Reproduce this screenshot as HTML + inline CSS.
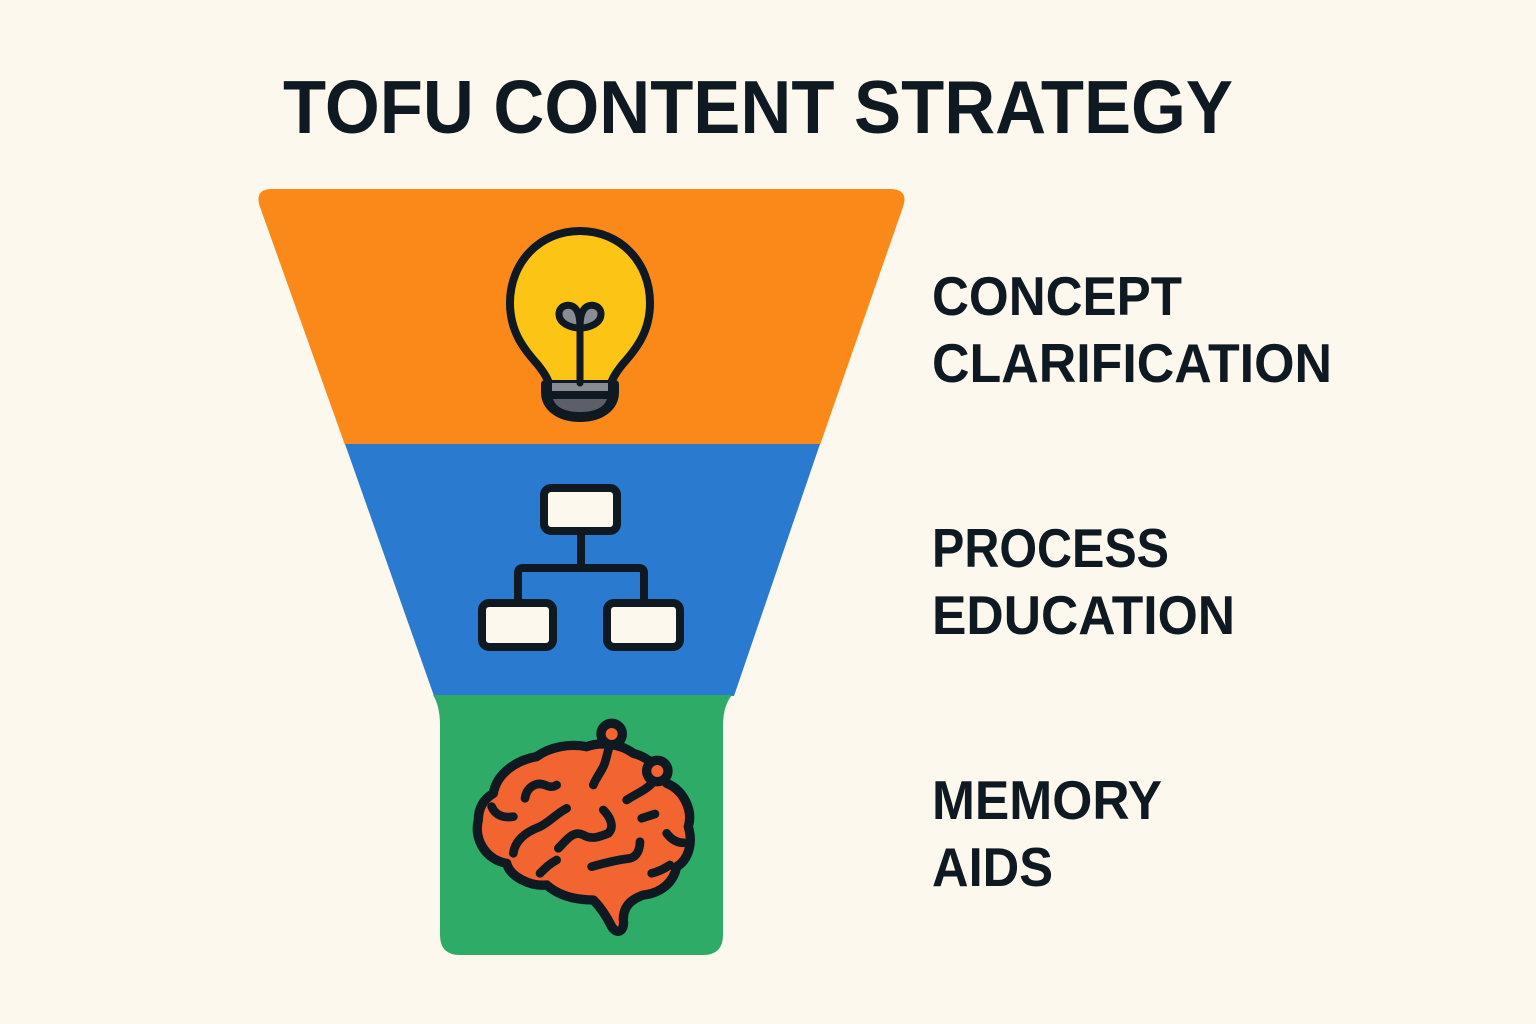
<!DOCTYPE html>
<html>
<head>
<meta charset="utf-8">
<style>
html,body{margin:0;padding:0;background:#fcf8ee;}
body{width:1536px;height:1024px;overflow:hidden;}
svg{display:block;}
text{font-family:"Liberation Sans",sans-serif;font-weight:bold;fill:#0f1922;}
</style>
</head>
<body>
<svg width="1536" height="1024" viewBox="0 0 1536 1024" xmlns="http://www.w3.org/2000/svg">
<rect width="1536" height="1024" fill="#fcf8ee"/>

<!-- Title -->
<text x="283" y="133" font-size="75" textLength="950" lengthAdjust="spacingAndGlyphs">TOFU CONTENT STRATEGY</text>

<!-- Funnel -->
<path d="M272,189 L890,189 Q909,189 903,207 L820,445 L345,445 L260,207 Q254,189 272,189 Z" fill="#fb8919"/>
<path d="M345,444 L820,444 L734,696 L434,696 Z" fill="#2a7bd0"/>
<path d="M433,695 L732,695 Q723,706 723,726 L723,935 Q723,955 703,955 L460,955 Q440,955 440,935 L440,726 Q440,706 433,695 Z" fill="#2fab68"/>

<!-- Light bulb -->
<g stroke="#0f1922" stroke-width="8" stroke-linejoin="round" stroke-linecap="round">
  <path d="M580,231 C620,231 650,262 650,303 C650,333 635,350 622,365 C614,375 611,382 611,385 L549,385 C549,382 546,375 538,365 C525,350 510,333 510,303 C510,262 540,231 580,231 Z" fill="#fcc415"/>
  <path d="M545,384 L615,384 L615,392 C615,408 600,418 580,418 C560,418 545,408 545,392 Z" fill="#0f1922"/>
</g>
<rect x="552" y="383" width="56" height="8" fill="#8a8c93"/>
<path d="M553,399 L607,399 C604,408 594,412 580,412 C566,412 556,408 553,399 Z" fill="#5c5f67"/>
<g stroke="#0f1922" stroke-width="7" fill="none" stroke-linecap="round">
  <line x1="580" y1="328" x2="580" y2="383"/>
  <path d="M580,328 C570,328 559,323 559,314 C559,305 570,303 575,308 C579,312 580,319 580,328 Z" fill="#8a8c93"/>
  <path d="M580,328 C590,328 601,323 601,314 C601,305 590,303 585,308 C581,312 580,319 580,328 Z" fill="#8a8c93"/>
</g>

<!-- Flowchart -->
<g stroke="#0f1922" stroke-width="8" fill="#fcf8ee" stroke-linejoin="round">
  <line x1="581" y1="532" x2="581" y2="568" fill="none"/>
  <path d="M518,603 L518,573 Q518,568 523,568 L639,568 Q644,568 644,573 L644,603" fill="none"/>
  <rect x="544" y="488" width="73" height="43" rx="7"/>
  <rect x="482" y="603" width="71" height="44" rx="7"/>
  <rect x="607" y="603" width="73" height="44" rx="7"/>
</g>

<!-- Brain -->
<g transform="translate(460,700) scale(0.3333)">
  <g stroke="#0f1922" stroke-width="28" stroke-linejoin="round" stroke-linecap="round">
    <path d="M100,280 C110,220 170,180 230,170 C270,140 330,130 380,140 C420,125 480,130 520,160 C560,170 600,200 620,250 C670,270 700,330 685,380 C700,430 685,480 650,500 C640,550 600,580 550,585 C510,600 490,620 490,660 C495,695 470,705 455,680 C440,650 420,620 400,600 C350,600 300,590 260,555 C210,560 150,530 140,490 C80,480 40,420 55,360 C55,320 75,295 100,280 Z" fill="#f26430"/>
    <circle cx="455" cy="102" r="32" fill="#f26430"/>
    <circle cx="592" cy="213" r="32" fill="#f26430"/>
  </g>
  <g stroke="#0f1922" stroke-width="26" fill="none" stroke-linecap="round" stroke-linejoin="round">
    <path d="M450,135 C440,160 440,180 430,200 C420,220 405,240 400,255"/>
    <path d="M580,245 C560,270 530,280 500,300"/>
    <path d="M195,295 C200,260 230,245 255,255 C270,262 280,262 290,255"/>
    <path d="M95,320 C105,345 130,355 160,350"/>
    <path d="M160,460 C165,420 200,395 240,380 C270,365 290,340 320,325"/>
    <path d="M430,330 C450,350 465,380 445,400"/>
    <path d="M295,445 C320,420 340,390 370,405 C395,420 420,410 445,400"/>
    <path d="M545,355 C560,350 575,345 585,342"/>
    <path d="M620,400 C635,420 655,430 670,428"/>
    <path d="M395,500 C430,490 470,480 510,475 C530,470 540,450 540,425"/>
    <path d="M575,520 C595,515 615,505 630,495"/>
    <path d="M240,520 C255,505 270,490 290,480"/>
  </g>
</g>

<!-- Labels -->
<text x="932" y="315" font-size="55" textLength="250" lengthAdjust="spacingAndGlyphs">CONCEPT</text>
<text x="932" y="382" font-size="55" textLength="400" lengthAdjust="spacingAndGlyphs">CLARIFICATION</text>
<text x="932" y="567" font-size="55" textLength="237" lengthAdjust="spacingAndGlyphs">PROCESS</text>
<text x="932" y="634" font-size="55" textLength="303" lengthAdjust="spacingAndGlyphs">EDUCATION</text>
<text x="932" y="819" font-size="55" textLength="230" lengthAdjust="spacingAndGlyphs">MEMORY</text>
<text x="932" y="886" font-size="55" textLength="121" lengthAdjust="spacingAndGlyphs">AIDS</text>
</svg>
</body>
</html>
